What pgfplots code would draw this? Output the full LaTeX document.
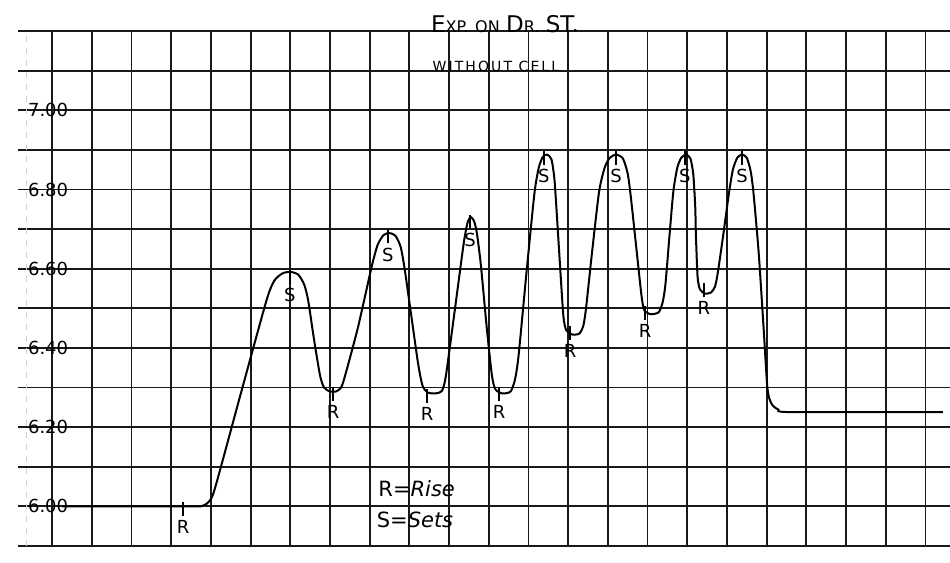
\documentclass[border=0pt]{standalone}
\usepackage{pgfplots}
\pgfplotsset{compat=1.18}
\usepackage{fontspec}
\setmainfont{DejaVu Sans}
\pgfplotstableread{
x y
0.25 6.000
3.50 6.000
3.80 6.002
3.95 6.012
4.10 6.045
4.74 6.280
5.40 6.520
5.60 6.570
5.80 6.588
6.00 6.592
6.20 6.585
6.35 6.560
6.45 6.520
6.60 6.420
6.75 6.330
6.85 6.300
7.00 6.290
7.15 6.290
7.28 6.300
7.38 6.330
7.70 6.450
8.05 6.605
8.20 6.660
8.35 6.685
8.50 6.690
8.65 6.683
8.78 6.655
8.88 6.600
9.05 6.480
9.22 6.360
9.33 6.305
9.45 6.288
9.65 6.285
9.82 6.292
9.92 6.330
10.15 6.500
10.37 6.665
10.47 6.718
10.55 6.730
10.63 6.720
10.70 6.690
10.80 6.610
10.95 6.450
11.08 6.330
11.17 6.295
11.35 6.285
11.55 6.290
11.66 6.320
11.75 6.380
11.95 6.590
12.15 6.790
12.26 6.855
12.36 6.882
12.47 6.888
12.58 6.876
12.65 6.830
12.70 6.760
12.80 6.600
12.88 6.480
12.95 6.445
13.10 6.434
13.28 6.436
13.38 6.455
13.45 6.500
13.60 6.640
13.78 6.795
13.92 6.855
14.05 6.880
14.21 6.888
14.38 6.878
14.50 6.840
14.58 6.780
14.72 6.650
14.85 6.530
14.92 6.495
15.08 6.485
15.28 6.490
15.38 6.515
15.45 6.560
15.55 6.680
15.65 6.795
15.75 6.855
15.85 6.880
15.97 6.888
16.08 6.878
16.15 6.840
16.20 6.760
16.22 6.680
16.26 6.580
16.32 6.548
16.45 6.537
16.60 6.540
16.70 6.555
16.77 6.590
16.90 6.680
17.05 6.790
17.15 6.850
17.26 6.880
17.38 6.888
17.50 6.880
17.60 6.845
17.67 6.790
17.80 6.640
17.93 6.440
18.01 6.310
18.06 6.275
18.15 6.255
18.30 6.244
18.60 6.238
22.44 6.238
}\curve
\pgfplotstableread{
x y l
5.99 6.579 S
8.46 6.682 S
10.53 6.718 S
12.39 6.879 S
14.21 6.879 S
15.94 6.879 S
17.38 6.879 S
3.30 5.993 R
7.08 6.283 R
9.45 6.278 R
11.26 6.283 R
13.05 6.437 R
14.94 6.488 R
16.42 6.546 R
}\marks
\begin{document}
\begin{tikzpicture}
\begin{axis}[
  scale only axis, width=466pt, height=257.5pt,
  xmin=-0.86, xmax=22.62, ymin=5.9, ymax=7.2,
  axis line style={draw=none},
  major tick length=0pt,
  xtick={0,1,2,3,4,5,6,7,8,9,10,11,12,13,14,15,16,17,18,19,20,21,22},
  xticklabels={},
  extra x ticks={-0.655},
  extra x tick labels={},
  extra x tick style={grid style={gray!35, line width=0.5pt, dashed}},
  ytick={5.9,6.0,6.1,6.2,6.3,6.4,6.5,6.6,6.7,6.8,6.9,7.0,7.1,7.2},
  yticklabels={,6.00,,6.20,,6.40,,6.60,,6.80,,7.00,,},
  yticklabel style={anchor=west, xshift=1.5pt, font=\fontsize{9}{9}\selectfont},
  /pgf/number format/assume math mode=true,
  grid=major, grid style={black!90, line width=0.9pt},
  clip=false,
]
\addplot[black, line width=1pt, smooth, tension=0.4] table {\curve};
\addplot[only marks, mark=|, mark size=3.5pt, mark options={black, line width=0.8pt},
  point meta=explicit symbolic, nodes near coords,
  every node near coord/.append style={anchor=north, yshift=-2pt, font=\fontsize{9}{9}\selectfont, black}]
  table[meta=l] {\marks};
\node[anchor=base, inner sep=0pt, yshift=-1pt] at (axis cs:11.41,7.2)
  {{\fontsize{11.5}{11.5}\selectfont E}{\fontsize{8}{8}\selectfont XP.} {\fontsize{8}{8}\selectfont ON} {\fontsize{11.5}{11.5}\selectfont D}{\fontsize{8}{8}\selectfont R.} {\fontsize{11.5}{11.5}\selectfont ST.}};
\node[anchor=base, inner sep=0pt] at (axis cs:11.18,7.097)
  {\fontsize{7}{7}\selectfont\addfontfeature{LetterSpace=15}WITHOUT CELL};
\node[anchor=base west, inner sep=0pt] at (axis cs:8.21,6.026)
  {\fontsize{10.5}{10.5}\selectfont R=\textit{Rise}};
\node[anchor=base west, inner sep=0pt] at (axis cs:8.17,5.947)
  {\fontsize{10.5}{10.5}\selectfont S=\textit{Sets}};
\coordinate (bl) at (rel axis cs:0,0);
\coordinate (tr) at (rel axis cs:1,1);
\end{axis}
\pgfresetboundingbox
\path[use as bounding box] ([xshift=-9pt,yshift=-8pt]bl) rectangle ([yshift=15.5pt]tr);
\end{tikzpicture}
\end{document}
